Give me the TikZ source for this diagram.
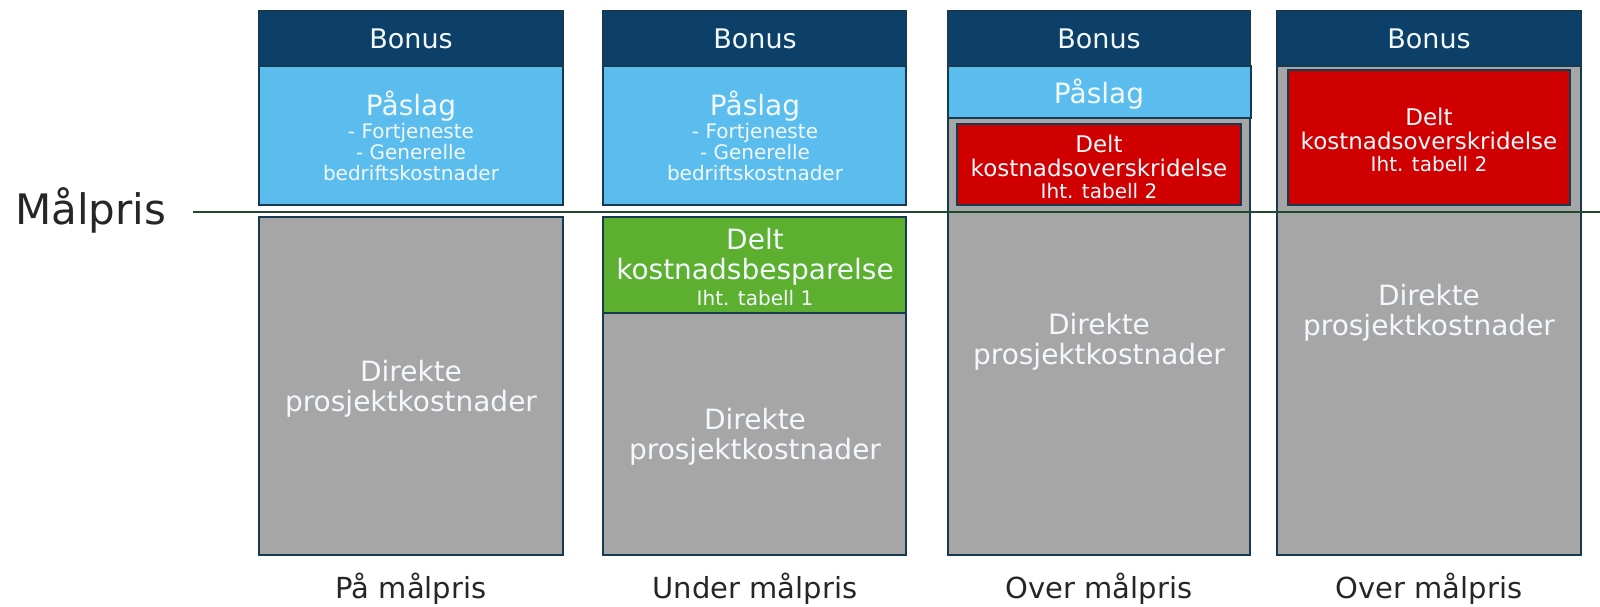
\documentclass[tikz,border=0pt]{standalone}
\usepackage{fontspec}
\setmainfont{DejaVu Sans}
\definecolor{navy}{HTML}{0D4068}
\definecolor{sky}{HTML}{5BBDED}
\definecolor{greyb}{HTML}{A6A6A6}
\definecolor{greenb}{HTML}{5CAF2F}
\definecolor{redb}{HTML}{D00000}
\definecolor{edge}{HTML}{163A52}
\definecolor{lineg}{HTML}{1E4B2E}
\definecolor{txtw}{HTML}{F2F8FC}
\begin{document}
\begin{tikzpicture}[x=1pt,y=-1pt,
 box/.style={draw=edge,line width=1.6pt,anchor=north west,inner sep=0pt,outer sep=0pt},
 big/.style={text=txtw,align=center,font=\fontsize{28}{30.5}\selectfont},
 hdr/.style={text=txtw,align=center,font=\fontsize{27}{30}\selectfont},
 sub/.style={text=txtw,align=center,font=\fontsize{20}{21}\selectfont},
 mid/.style={text=txtw,align=center,font=\fontsize{23}{24}\selectfont},
 lab/.style={text=black!85,anchor=base,font=\fontsize{29}{32}\selectfont}]
\useasboundingbox (0,0) rectangle (1600,606);
% column 1
\node[box,fill=navy,minimum width=304pt,minimum height=55pt] (bonus1) at (259,11) {};
\node[box,fill=sky,minimum width=304pt,minimum height=139pt] (pas1) at (259,66) {};
\node[box,fill=greyb,minimum width=304pt,minimum height=338pt] (dir1) at (259,217) {};
% column 2
\node[box,fill=navy,minimum width=303pt,minimum height=55pt] (bonus2) at (603,11) {};
\node[box,fill=sky,minimum width=303pt,minimum height=139pt] (pas2) at (603,66) {};
\node[box,fill=greyb,minimum width=303pt,minimum height=242pt] (dir2) at (603,313) {};
\node[box,fill=greenb,minimum width=303pt,minimum height=96pt] (grn2) at (603,217) {};
% column 3
\node[box,fill=greyb,minimum width=302pt,minimum height=437pt] (dir3) at (948,118) {};
\node[box,fill=navy,minimum width=302pt,minimum height=55pt] (bonus3) at (948,11) {};
\node[box,fill=sky,minimum width=303pt,minimum height=52pt] (pas3) at (948,66) {};
\node[box,fill=redb,minimum width=284pt,minimum height=81pt] (red3) at (957,124) {};
% column 4
\node[box,fill=greyb,minimum width=304pt,minimum height=489pt] (dir4) at (1277,66) {};
\node[box,fill=navy,minimum width=304pt,minimum height=55pt] (bonus4) at (1277,11) {};
\node[box,fill=redb,minimum width=282pt,minimum height=135pt] (red4) at (1288,70) {};
% target price line
\coordinate (ls) at (193,212);
\coordinate (le) at (1600,212);
\draw[lineg,line width=2.5pt] (ls) -- (le);
\node[anchor=base west,inner sep=0pt,text=black!85,font=\fontsize{42}{46}\selectfont] (malpris) at (15,224) {Målpris};
% texts
\node[hdr] (tb1) at (411,39) {Bonus};
\node[hdr] (tb2) at (755,39) {Bonus};
\node[hdr] (tb3) at (1099,39) {Bonus};
\node[hdr] (tb4) at (1429,39) {Bonus};
\node[big] (tp1) at (411,106) {Påslag};
\node[big] (tp2) at (755,106) {Påslag};
\node[big] (tp3) at (1099,94) {Påslag};
\node[sub] (ts1) at (411,152) {- Fortjeneste\\- Generelle\\bedriftskostnader};
\node[sub] (ts2) at (755,152) {- Fortjeneste\\- Generelle\\bedriftskostnader};
\node[big] (tg2) at (755,257) {Delt\\kostnadsbesparelse};
\node[sub] (tgi2) at (755,298) {Iht. tabell 1};
\node[mid] (tr3) at (1099,156) {Delt\\kostnadsoverskridelse};
\node[sub] (tri3) at (1099,191) {Iht. tabell 2};
\node[mid] (tr4) at (1429,129) {Delt\\kostnadsoverskridelse};
\node[sub] (tri4) at (1429,164) {Iht. tabell 2};
\node[big] (td1) at (411,389) {Direkte\\prosjektkostnader};
\node[big] (td2) at (755,437) {Direkte\\prosjektkostnader};
\node[big] (td3) at (1099,342) {Direkte\\prosjektkostnader};
\node[big] (td4) at (1429,313) {Direkte\\prosjektkostnader};
% column labels
\node[lab] (l1) at (411,598) {På målpris};
\node[lab] (l2) at (755,598) {Under målpris};
\node[lab] (l3) at (1099,598) {Over målpris};
\node[lab] (l4) at (1429,598) {Over målpris};
\end{tikzpicture}
\end{document}
